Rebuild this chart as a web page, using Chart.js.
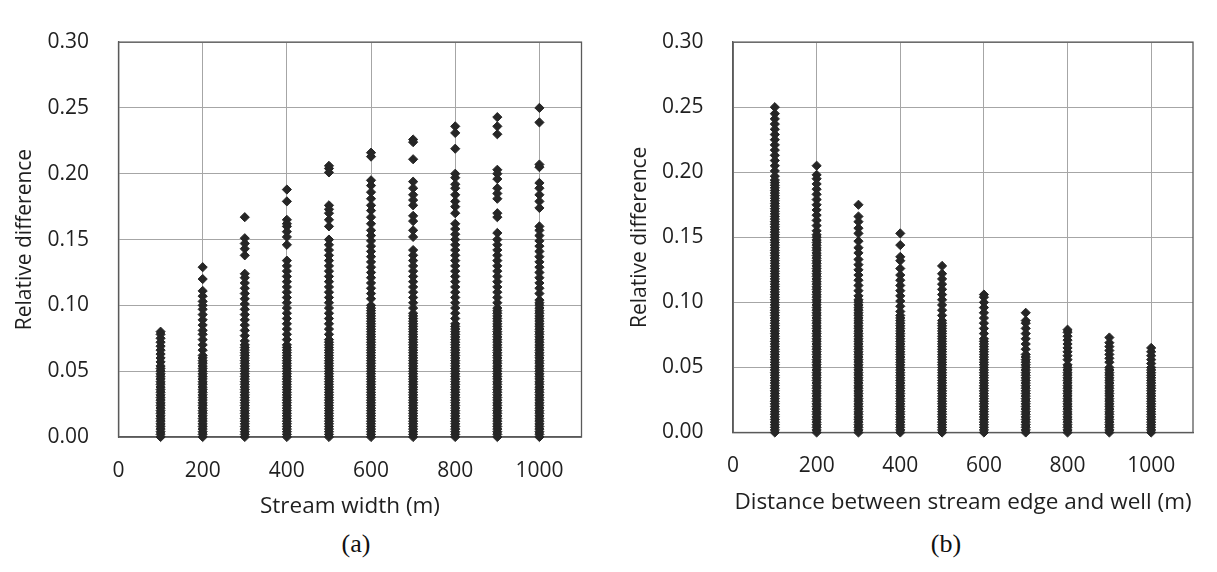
<!DOCTYPE html>
<html><head><meta charset="utf-8">
<script src="https://cdn.jsdelivr.net/npm/chart.js@4.4.1/dist/chart.umd.min.js"></script>
<style>
html,body{margin:0;padding:0;background:#fff;width:1217px;height:572px;overflow:hidden;}
.box{position:absolute;top:0;height:525px;}
#wa{left:0;width:600px;}
#wb{left:608px;width:609px;}
.cap{position:absolute;font-family:"Liberation Serif","Times New Roman",serif;font-size:26px;color:#111;line-height:1;transform:translate(-50%,-50%);top:544px;}
#capa{left:356px;}
#capb{left:946px;}
</style></head><body>
<div class="box" id="wa"><canvas id="ca"></canvas></div>
<div class="box" id="wb"><canvas id="cb"></canvas></div>
<div class="cap" id="capa">(a)</div>
<div class="cap" id="capb">(b)</div>
<script>
// Values are relative differences in thousandths (e.g. 250 = 0.250)
const xCategories = [100,200,300,400,500,600,700,800,900,1000];
const yTickLabels = ['0.00','0.05','0.10','0.15','0.20','0.25','0.30'];
const xTickLabels = ['0','200','400','600','800','1000'];
const titleA = 'Stream width (m)';
const titleB = 'Distance between stream edge and well (m)';
const yTitle = 'Relative difference';

// (a) Stream width
const a100 = [80,78,75,72,69,66,63,60,57,54,52,50,48,46,44,42,40,38,36,34,32,30,28,26,24,22,20,18,16,14,12,10,8,6,4,2,0];
const a200 = [129,120,111,107,103,100,97,93,89,85,81,78,74,70,66,62,60,58,56,54,52,50,48,46,44,42,40,38,36,34,32,30,28,26,24,22,20,18,16,14,12,10,8,6,4,2,0];
const a300 = [167,151,147,143,138,124,121,117,113,109,105,101,97,93,89,85,81,77,73,70,68,66,64,62,60,58,56,54,52,50,48,46,44,42,40,38,36,34,32,30,28,26,24,22,20,18,16,14,12,10,8,6,4,2,0];
const a400 = [188,179,165,162,160,156,152,146,134,130,126,122,118,114,110,106,102,98,94,90,86,82,78,74,70,68,66,64,62,60,58,56,54,52,50,48,46,44,42,40,38,36,34,32,30,28,26,24,22,20,18,16,14,12,10,8,6,4,2,0];
const a500 = [206,204,201,176,173,170,165,160,150,146,142,138,134,130,126,122,118,114,110,106,102,98,94,90,86,82,78,74,72,70,68,66,64,62,60,58,56,54,52,50,48,46,44,42,40,38,36,34,32,30,28,26,24,22,20,18,16,14,12,10,8,6,4,2,0];
const a600 = [216,213,195,191,186,181,176,172,167,162,157,153,149,145,141,137,133,129,125,121,117,113,109,105,100,98,96,94,92,90,88,86,84,82,80,78,76,74,72,70,68,66,64,62,60,58,56,54,52,50,48,46,44,42,40,38,36,34,32,30,28,26,24,22,20,18,16,14,12,10,8,6,4,2,0];
const a700 = [226,224,211,194,189,184,180,176,168,164,157,152,142,138,134,130,126,122,118,114,110,106,102,98,94,92,90,88,86,84,82,80,78,76,74,72,70,68,66,64,62,60,58,56,54,52,50,48,46,44,42,40,38,36,34,32,30,28,26,24,22,20,18,16,14,12,10,8,6,4,2,0];
const a800 = [236,231,219,200,197,192,189,184,179,175,170,162,158,154,150,146,142,138,134,130,126,122,118,114,110,106,102,98,94,90,86,84,82,80,78,76,74,72,70,68,66,64,62,60,58,56,54,52,50,48,46,44,42,40,38,36,34,32,30,28,26,24,22,20,18,16,14,12,10,8,6,4,2,0];
const a900 = [243,236,230,203,200,196,189,185,181,170,167,155,150,146,142,138,134,130,126,122,118,114,110,106,102,98,96,94,92,90,88,86,84,82,80,78,76,74,72,70,68,66,64,62,60,58,56,54,52,50,48,46,44,42,40,38,36,34,32,30,28,26,24,22,20,18,16,14,12,10,8,6,4,2,0];
const a1000 = [250,239,207,205,193,189,184,179,174,160,157,153,149,145,141,137,133,129,125,121,117,113,109,104,102,100,98,96,94,92,90,88,86,84,82,80,78,76,74,72,70,68,66,64,62,60,58,56,54,52,50,48,46,44,42,40,38,36,34,32,30,28,26,24,22,20,18,16,14,12,10,8,6,4,2,0];

// (b) Distance between stream edge and well
const b100 = [250,245,241,237,233,229,225,221,217,213,209,205,201,197,194,192,190,188,186,184,182,180,178,176,174,172,170,168,166,164,162,160,158,156,154,152,150,148,146,144,142,140,138,136,134,132,130,128,126,124,122,120,118,116,114,112,110,108,106,104,102,100,98,96,94,92,90,88,86,84,82,80,78,76,74,72,70,68,66,64,62,60,58,56,54,52,50,48,46,44,42,40,38,36,34,32,30,28,26,24,22,20,18,16,14,12,10,8,6,4,2,0];
const b200 = [205,198,195,191,187,183,179,175,171,167,163,159,155,152,150,148,146,144,142,140,138,136,134,132,130,128,126,124,122,120,118,116,114,112,110,108,106,104,102,100,98,96,94,92,90,88,86,84,82,80,78,76,74,72,70,68,66,64,62,60,58,56,54,52,50,48,46,44,42,40,38,36,34,32,30,28,26,24,22,20,18,16,14,12,10,8,6,4,2,0];
const b300 = [175,166,162,157,153,147,142,138,133,129,125,121,117,113,109,105,102,100,98,96,94,92,90,88,86,84,82,80,78,76,74,72,70,68,66,64,62,60,58,56,54,52,50,48,46,44,42,40,38,36,34,32,30,28,26,24,22,20,18,16,14,12,10,8,6,4,2,0];
const b400 = [153,144,135,132,126,121,117,113,109,105,101,97,93,90,88,86,84,82,80,78,76,74,72,70,68,66,64,62,60,58,56,54,52,50,48,46,44,42,40,38,36,34,32,30,28,26,24,22,20,18,16,14,12,10,8,6,4,2,0];
const b500 = [128,122,118,114,110,106,102,98,94,90,86,84,82,80,78,76,74,72,70,68,66,64,62,60,58,56,54,52,50,48,46,44,42,40,38,36,34,32,30,28,26,24,22,20,18,16,14,12,10,8,6,4,2,0];
const b600 = [106,104,100,96,92,88,84,80,76,72,70,68,66,64,62,60,58,56,54,52,50,48,46,44,42,40,38,36,34,32,30,28,26,24,22,20,18,16,14,12,10,8,6,4,2,0];
const b700 = [92,86,84,80,76,72,68,64,60,58,56,54,52,50,48,46,44,42,40,38,36,34,32,30,28,26,24,22,20,18,16,14,12,10,8,6,4,2,0];
const b800 = [79,77,74,71,68,65,62,59,56,52,50,48,46,44,42,40,38,36,34,32,30,28,26,24,22,20,18,16,14,12,10,8,6,4,2,0];
const b900 = [73,69,66,63,60,57,54,50,48,46,44,42,40,38,36,34,32,30,28,26,24,22,20,18,16,14,12,10,8,6,4,2,0];
const b1000 = [65,62,59,56,53,50,48,46,44,42,40,38,36,34,32,30,28,26,24,22,20,18,16,14,12,10,8,6,4,2,0];

const columnsA = [a100,a200,a300,a400,a500,a600,a700,a800,a900,a1000];
const columnsB = [b100,b200,b300,b400,b500,b600,b700,b800,b900,b1000];

function buildPoints(cols){
  const pts = [];
  cols.forEach((arr, i) => arr.forEach(v => pts.push({x: xCategories[i], y: v / 1000})));
  return pts;
}

const TEXT = '#1f1f1f';
const FONT = '"Open Sans", "DejaVu Sans", sans-serif';

const framePlugin = {
  id: 'frame',
  beforeDatasetsDraw(chart){
    const {ctx, chartArea: a} = chart;
    ctx.save();
    ctx.strokeStyle = '#5a5a5a';
    ctx.lineWidth = 1.3;
    ctx.strokeRect(a.left, a.top, a.right - a.left, a.bottom - a.top);
    ctx.restore();
  }
};

function makeChart(id, cols, xTitle, g){
  return new Chart(document.getElementById(id), {
    type: 'scatter',
    data: { datasets: [{
      data: buildPoints(cols),
      pointStyle: 'rectRot',
      pointRadius: 4.6,
      pointBorderWidth: 1,
      backgroundColor: '#262626',
      borderColor: '#262626',
      clip: false
    }]},
    options: {
      responsive: true,
      maintainAspectRatio: false,
      animation: false,
      events: [],
      layout: { padding: { top: g.top, right: g.right, left: 0, bottom: 0 } },
      plugins: { legend: { display: false }, tooltip: { enabled: false } },
      scales: {
        x: {
          type: 'linear', min: 0, max: 1100,
          afterBuildTicks: s => { s.ticks = xTickLabels.map(t => ({ value: Number(t) })); },
          afterFit: s => { s.height = g.xh; },
          ticks: { padding: g.xpad, color: TEXT, font: { family: FONT, size: 21 }, maxRotation: 0, autoSkip: false,
                   callback: v => String(v) },
          grid: { color: '#a6a6a6', lineWidth: 1, drawTicks: false },
          border: { display: true, color: '#5a5a5a', width: 1.3 },
          title: { display: true, text: xTitle, color: TEXT, font: { family: FONT, size: 22.5 }, padding: { top: 0, bottom: g.xtpad } }
        },
        y: {
          type: 'linear', min: 0, max: 0.3,
          afterFit: s => { s.width = g.yw; },
          ticks: { stepSize: 0.05, padding: 29.5, color: TEXT, font: { family: FONT, size: 21 },
                   callback: (v) => yTickLabels[Math.round(v / 0.05)] },
          grid: { color: '#a6a6a6', lineWidth: 1, drawTicks: false },
          border: { display: true, color: '#5a5a5a', width: 1.3 },
          title: { display: true, text: yTitle, color: TEXT, font: { family: FONT, size: 21 }, padding: { top: g.ytpad, bottom: 0 } }
        }
      }
    },
    plugins: [framePlugin]
  });
}

makeChart('ca', columnsA, titleA, { top: 28.3, right: 18.5, xh: 88, yw: 118.5, xpad: 21, xtpad: 4.5, ytpad: 12.4 });
makeChart('cb', columnsB, titleB, { top: 25, right: 24, xh: 92.5, yw: 125, xpad: 21, xtpad: 8.5, ytpad: 19.4 });
</script>
</body></html>
